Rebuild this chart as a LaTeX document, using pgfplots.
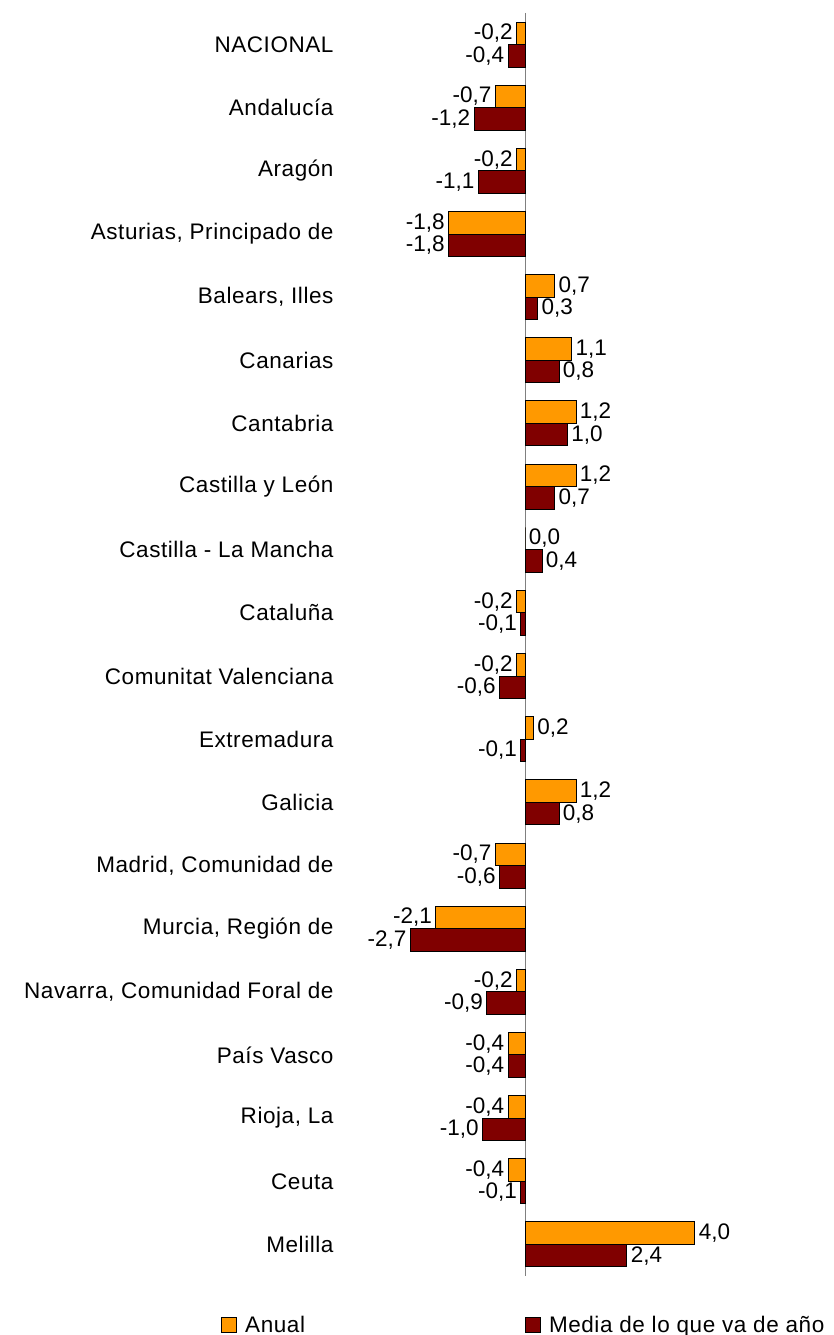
\documentclass[border=0pt]{standalone}
\usepackage{fontspec}
\setmainfont{Liberation Sans}
\newfontfamily\lab[LetterSpace=2.5]{Liberation Sans}
\usepackage{pgfplots}
\pgfplotsset{compat=1.18}
\definecolor{anual}{RGB}{255,153,0}
\definecolor{media}{RGB}{128,0,0}
\begin{document}
\begin{tikzpicture}
\useasboundingbox (0,0) rectangle (833pt,1335pt);
\begin{axis}[
  at={(340pt,59pt)}, anchor=south west,
  scale only axis,
  width=460pt, height=1263pt,
  xmin=-4.353, xmax=6.471,
  ymin=-0.5, ymax=19.5,
  y dir=reverse,
  axis lines*=left,
  axis line style={draw=none},
  major tick length=0pt,
  xtick=\empty,
  ytick={0,...,19},
  yticklabels={NACIONAL,Andalucía,Aragón,{Asturias, Principado de},{Balears, Illes},Canarias,Cantabria,Castilla y León,Castilla - La Mancha,Cataluña,Comunitat Valenciana,Extremadura,Galicia,{Madrid, Comunidad de},{Murcia, Región de},{Navarra, Comunidad Foral de},País Vasco,{Rioja, La},Ceuta,Melilla},
  yticklabel style={font=\lab\fontsize{22.5}{26}\selectfont, xshift=-3pt},
  xbar, bar width=22.5pt,
  point meta=x,
  nodes near coords,
  nodes near coords align=horizontal,
  every node near coord/.append style={font=\fontsize{22.5}{26}\selectfont, text=black,
    /pgf/number format/.cd, fixed, fixed zerofill, precision=1, use comma, assume math mode=true},
  legend columns=2,
  legend style={draw=none, at={(axis description cs:-0.2597,-0.0388)}, anchor=west, inner sep=0pt,
    nodes={inner xsep=3.5pt},
    font=\lab\fontsize{22.5}{26}\selectfont, legend cell align=left,
    /tikz/every even column/.append style={column sep=216pt}},
  legend image code/.code={\draw[#1, draw=black, line width=1pt] (0pt,-7.5pt) rectangle (15pt,7.5pt); \path (20pt,0pt);},
]
\draw[gray, line width=1pt] (axis cs:0,-0.5) -- (axis cs:0,19.5);
\addplot[fill=anual, draw=black, line width=1pt, bar shift=11.25pt] coordinates {
(-0.2,0) (-0.7,1) (-0.2,2) (-1.8,3) (0.7,4) (1.1,5) (1.2,6) (1.2,7) (0.0,8) (-0.2,9)
(-0.2,10) (0.2,11) (1.2,12) (-0.7,13) (-2.1,14) (-0.2,15) (-0.4,16) (-0.4,17) (-0.4,18) (4.0,19)};
\addlegendentry{Anual}
\addplot[fill=media, draw=black, line width=1pt, bar shift=-11.25pt] coordinates {
(-0.4,0) (-1.2,1) (-1.1,2) (-1.8,3) (0.3,4) (0.8,5) (1.0,6) (0.7,7) (0.4,8) (-0.1,9)
(-0.6,10) (-0.1,11) (0.8,12) (-0.6,13) (-2.7,14) (-0.9,15) (-0.4,16) (-1.0,17) (-0.1,18) (2.4,19)};
\addlegendentry{Media de lo que va de año}
\end{axis}
\end{tikzpicture}
\end{document}
